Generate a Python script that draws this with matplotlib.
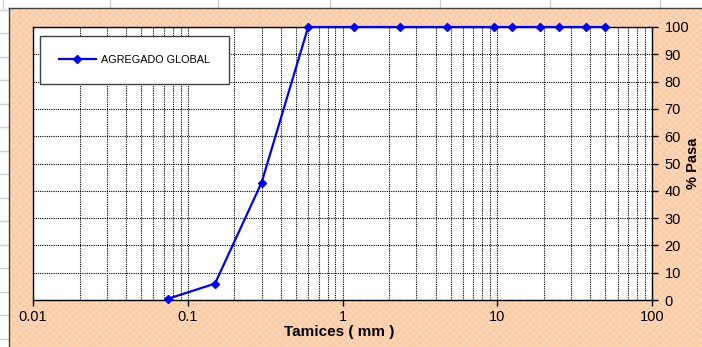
import matplotlib
matplotlib.use("Agg")
import matplotlib.pyplot as plt
from matplotlib.patches import Rectangle
from matplotlib.ticker import LogLocator, FixedLocator, NullFormatter

plt.rcParams['font.family'] = ['Liberation Sans', 'DejaVu Sans']
plt.rcParams['hatch.linewidth'] = 0.6

sieve_mm = [0.075, 0.15, 0.3, 0.6, 1.18, 2.36, 4.75, 9.5, 12.5, 19, 25, 37.5, 50]
pct_pass = [0.5, 6, 43, 100, 100, 100, 100, 100, 100, 100, 100, 100, 100]
series_name = "AGREGADO GLOBAL"
x_ticks = [0.01, 0.1, 1, 10, 100]
x_tick_labels = ["0.01", "0.1", "1", "10", "100"]
y_ticks = [0, 10, 20, 30, 40, 50, 60, 70, 80, 90, 100]

W, H = 702, 347
fig = plt.figure(figsize=(W / 100, H / 100), dpi=100)
fig.patch.set_facecolor('white')

# spreadsheet grid lines in the white margin
for xp in [3, 110, 218, 330, 440, 550, 660]:
    fig.add_artist(plt.Line2D([xp / W, xp / W], [1 - 8 / H, 1], color='#d0d0d0', lw=1))
for yp in [10, 33, 57, 80, 104, 127, 151, 174, 198, 221, 245, 268, 292, 315, 339]:
    fig.add_artist(plt.Line2D([0, 9 / W], [1 - yp / H, 1 - yp / H], color='#d0d0d0', lw=1))

# orange chart area with fine pattern
bg = Rectangle((9 / W, 0), 1 - 9 / W, 1 - 8 / H, transform=fig.transFigure,
               facecolor='#FBCBA3', edgecolor='#FDDEC4', hatch='xxxxx', lw=0, zorder=0)
fig.add_artist(bg)
fig.add_artist(plt.Line2D([9 / W, 1], [1 - 8 / H, 1 - 8 / H], color='#404040', lw=1))
fig.add_artist(plt.Line2D([9 / W, 9 / W], [0, 1 - 8 / H], color='#404040', lw=1))

ax = fig.add_axes([33 / W, 1 - 300 / H, (652 - 33) / W, (300 - 27) / H])
ax.set_facecolor('white')
ax.set_xscale('log')
ax.set_xlim(0.01, 100)
ax.set_ylim(0, 100)

ax.plot(sieve_mm, pct_pass, color='#0000FF', lw=1.6, marker='D', ms=4,
        markeredgecolor='#0000FF', markerfacecolor='#0000FF', label=series_name, zorder=5,
        clip_on=False)

ax.xaxis.set_major_locator(FixedLocator(x_ticks))
ax.set_xticklabels(x_tick_labels)
ax.xaxis.set_minor_locator(LogLocator(base=10, subs=range(2, 10), numticks=20))
ax.xaxis.set_minor_formatter(NullFormatter())
ax.yaxis.tick_right()
ax.set_yticks(y_ticks)

ax.grid(True, which='both', axis='x', color='black', ls=(0, (1, 1)), lw=0.8)
ax.grid(True, which='major', axis='y', color='black', ls=(0, (1, 1)), lw=0.8)
ax.set_axisbelow(True)

ax.tick_params(axis='y', which='major', direction='out', length=4, width=1, labelsize=10.5,
               colors='black', pad=5)
ax.tick_params(axis='x', which='major', direction='out', length=4, width=1, labelsize=10.5, pad=3)
ax.tick_params(axis='x', which='minor', length=0)
for s in ax.spines.values():
    s.set_color('black')
    s.set_linewidth(1)

fig.text(339 / W, 1 - 332 / H, "Tamices ( mm )", fontsize=11, fontweight='bold',
         ha='center', va='center')
fig.text(693 / W, 1 - 163 / H, "% Pasa", fontsize=10.5, fontweight='bold',
         ha='center', va='center', rotation=90)

leg = ax.legend(loc='upper left', bbox_to_anchor=(7 / 619, 1 - 9 / 273), fontsize=7.8,
                frameon=True, fancybox=False, shadow=False, borderpad=1.75,
                handlelength=3.4, borderaxespad=0, handletextpad=0.45)
leg.get_frame().set_edgecolor('#404040')
leg.get_frame().set_linewidth(1)
leg.get_frame().set_facecolor('white')
leg.get_frame().set_alpha(1)

fig.savefig("out.png", dpi=100)
